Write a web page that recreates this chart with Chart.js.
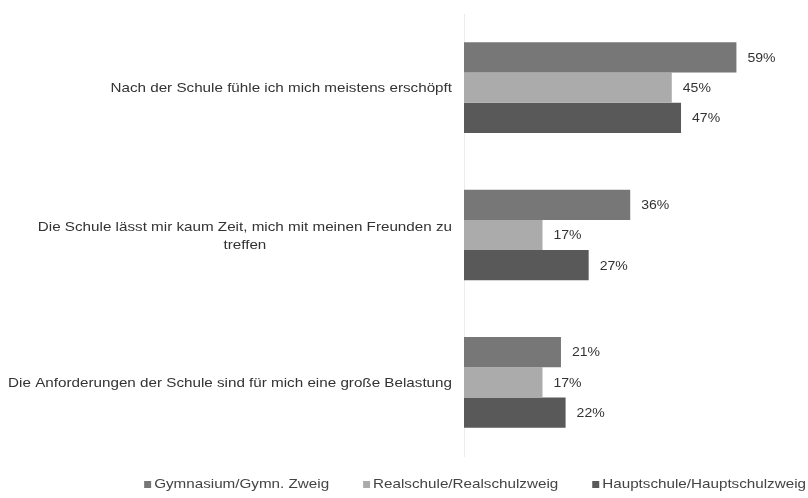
<!DOCTYPE html>
<html>
<head>
<meta charset="utf-8">
<script src="https://cdn.jsdelivr.net/npm/chart.js@4.4.1/dist/chart.umd.min.js"></script>
<style>
    html, body { margin: 0; padding: 0; background: #fff; }
    #wrap { width: 808px; height: 498px; }
</style>
</head>
<body>
<div id="wrap"><canvas id="belastungChart"></canvas></div>
<script>
// Aussagen (mehrzeilige Labels als Arrays)
const statements = [
    ["Nach der Schule fühle ich mich meistens erschöpft"],
    ["Die Schule lässt mir kaum Zeit, mich mit meinen Freunden zu", "treffen"],
    ["Die Anforderungen der Schule sind für mich eine große Belastung"]
];

const schoolTypes = ["Gymnasium/Gymn. Zweig", "Realschule/Realschulzweig", "Hauptschule/Hauptschulzweig"];

// Zustimmung in Prozent
const gymnasium = [59, 36, 21];
const realschule = [45, 17, 17];
const hauptschule = [47, 27, 22];

const barColors = ["#777777", "#ababab", "#595959"];
const FONT = "'Liberation Sans', Arial, Helvetica, sans-serif";
const STRETCH = 1.17; // Schrift etwas breiter laufen lassen

// Text horizontal gestreckt zeichnen
function drawText(ctx, text, x, y) {
    ctx.save();
    ctx.translate(x, y);
    ctx.scale(STRETCH, 1);
    ctx.fillText(text, 0, 0);
    ctx.restore();
}

function textWidth(ctx, text) {
    return ctx.measureText(text).width * STRETCH;
}

// Prozentwerte rechts neben die Balken schreiben
const valueLabels = {
    id: "valueLabels",
    afterDatasetsDraw(chart) {
        const ctx = chart.ctx;
        ctx.save();
        ctx.font = "12px " + FONT;
        ctx.fillStyle = "#333";
        ctx.textAlign = "left";
        ctx.textBaseline = "middle";
        chart.data.datasets.forEach((ds, i) => {
            chart.getDatasetMeta(i).data.forEach((bar, j) => {
                drawText(ctx, ds.data[j] + "%", bar.x + 11, bar.y + 1);
            });
        });
        ctx.restore();
    }
};

// Kategorie-Labels: Block rechtsbündig, Zeilen darin zentriert
const statementLabels = {
    id: "statementLabels",
    afterDraw(chart) {
        const ctx = chart.ctx;
        const yScale = chart.scales.y;
        const right = chart.chartArea.left - 12;
        const lineHeight = 18;
        ctx.save();
        ctx.font = "13px " + FONT;
        ctx.fillStyle = "#333";
        ctx.textAlign = "center";
        ctx.textBaseline = "middle";
        chart.data.labels.forEach((lines, i) => {
            const yc = yScale.getPixelForTick(i) + 1;
            const w = Math.max(...lines.map(l => textWidth(ctx, l)));
            const xc = right - w / 2;
            const top = yc - (lines.length - 1) * lineHeight / 2;
            lines.forEach((line, k) => drawText(ctx, line, xc, top + k * lineHeight));
        });
        ctx.restore();
    }
};

// Legende unten, rechtsbündig, kleine Quadrate
const bottomLegend = {
    id: "bottomLegend",
    afterDraw(chart) {
        const ctx = chart.ctx;
        const box = 7, boxGap = 3, itemGap = 34;
        const y = 484;
        ctx.save();
        ctx.font = "13px " + FONT;
        ctx.textAlign = "left";
        ctx.textBaseline = "middle";
        const widths = schoolTypes.map(t => textWidth(ctx, t));
        const total = widths.reduce((a, b) => a + b, 0) + schoolTypes.length * (box + boxGap) + (schoolTypes.length - 1) * itemGap;
        let x = chart.width - 2 - total;
        schoolTypes.forEach((t, i) => {
            ctx.fillStyle = barColors[i];
            ctx.fillRect(x, y - 3, box, box);
            ctx.fillStyle = "#444";
            drawText(ctx, t, x + box + boxGap, y);
            x += box + boxGap + widths[i] + itemGap;
        });
        ctx.restore();
    }
};

const ctx = document.getElementById("belastungChart").getContext("2d");
new Chart(ctx, {
    type: "bar",
    data: {
        labels: statements,
        datasets: [
            { label: schoolTypes[0], data: gymnasium, backgroundColor: barColors[0] },
            { label: schoolTypes[1], data: realschule, backgroundColor: barColors[1] },
            { label: schoolTypes[2], data: hauptschule, backgroundColor: barColors[2] }
        ]
    },
    options: {
        indexAxis: "y",
        responsive: true,
        maintainAspectRatio: false,
        animation: false,
        layout: { padding: { top: 14, bottom: 42, left: 0, right: 0 } },
        datasets: {
            bar: { categoryPercentage: 0.615, barPercentage: 1.0, borderWidth: 0 }
        },
        scales: {
            x: {
                display: false,
                min: 0,
                max: 74.5
            },
            y: {
                grid: { display: false },
                border: { display: true, color: "#ececec", width: 1 },
                ticks: { display: false },
                afterFit(scale) { scale.width = 464; }
            }
        },
        plugins: {
            legend: { display: false },
            tooltip: { enabled: false }
        }
    },
    plugins: [valueLabels, statementLabels, bottomLegend]
});
</script>
</body>
</html>
